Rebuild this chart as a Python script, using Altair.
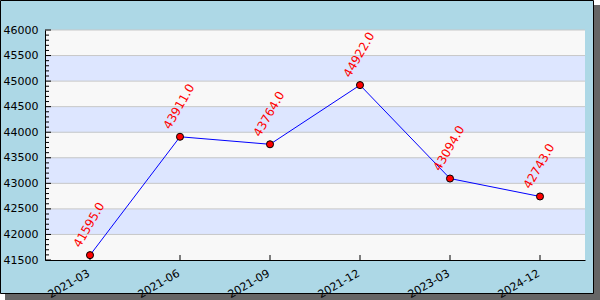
import altair as alt
import pandas as pd

categories = ["2021-03", "2021-06", "2021-09", "2021-12", "2023-03", "2024-12"]
values = [41595, 43911, 43764, 44922, 43094, 42743]

band_lows = [41500, 42000, 42500, 43000, 43500, 44000, 44500, 45000, 45500]
band_colors = ["#f8f8f8", "#dde6ff"] * 4 + ["#f8f8f8"]
grid_values = [42000, 42500, 43000, 43500, 44000, 44500, 45000, 45500, 46000]
major_ticks = [41500, 42000, 42500, 43000, 43500, 44000, 44500, 45000, 45500, 46000]
minor_ticks = [v + d for v in major_ticks[:-1] for d in (100, 200, 300, 400)]

Y0, Y1 = 41500, 46000
W, H = 540, 230
PL, PT = 45, 30

df = pd.DataFrame({"cat": categories, "val": values})
bands = pd.DataFrame({"lo": band_lows, "hi": [b + 500 for b in band_lows], "c": band_colors})
grid = pd.DataFrame({"g": grid_values})
majors = pd.DataFrame({"t": major_ticks})
minors = pd.DataFrame({"t": minor_ticks})
one = pd.DataFrame({"a": [0]})

yscale = alt.Scale(domain=[Y0, Y1], nice=False, zero=False)
xscale = alt.Scale(domain=categories, type="point", padding=0.5)

shadow = alt.Chart(one).mark_rect(fill="#666666").encode(
    x=alt.value(5 - PL), x2=alt.value(600 - PL),
    y=alt.value(5 - PT), y2=alt.value(300 - PT),
)
frame = alt.Chart(one).mark_rect(fill="#add8e6", stroke="#000000", strokeWidth=1).encode(
    x=alt.value(0.5 - PL), x2=alt.value(593.5 - PL),
    y=alt.value(0.5 - PT), y2=alt.value(293.5 - PT),
)

yaxis = alt.Axis(title=None, values=major_ticks, format="d", ticks=False, tickSize=0,
                 labelPadding=7, labelFontSize=11, labelFont="DejaVu Sans",
                 labelOverlap=False, labelBound=False, labelFlush=False, labelSeparation=0,
                 labelColor="#000000", domainColor="#000000", domainWidth=1,
                 grid=False, zindex=1)

xaxis = alt.Axis(title=None, ticks=False, tickSize=0, labelAngle=330, labelAlign="right",
                 labelBaseline="alphabetic", labelPadding=15, labelFontSize=11,
                 labelOverlap=False, labelBound=False, labelFlush=False, labelSeparation=0,
                 labelFont="DejaVu Sans", labelColor="#000000", domainColor="#000000",
                 domainWidth=1, grid=False, zindex=1)


def Y(field):
    return alt.Y(field, scale=yscale, axis=yaxis)


def X(field):
    return alt.X(field, scale=xscale, axis=xaxis, sort=categories)


band_layer = alt.Chart(bands).mark_rect().encode(
    y=Y("lo:Q"),
    y2="hi:Q",
    x=alt.value(0), x2=alt.value(W),
    fill=alt.Fill("c:N", scale=None),
)

grid_layer = alt.Chart(grid).mark_rule(color="#c8c8c8", strokeWidth=1).encode(
    y=Y("g:Q"), x=alt.value(0), x2=alt.value(W),
)

major_layer = alt.Chart(majors).mark_rule(color="#000000", strokeWidth=1).encode(
    y=Y("t:Q"), x=alt.value(0), x2=alt.value(6),
)
minor_layer = alt.Chart(minors).mark_rule(color="#000000", strokeWidth=1).encode(
    y=Y("t:Q"), x=alt.value(0), x2=alt.value(4),
)

xtick_layer = alt.Chart(df).mark_rule(color="#000000", strokeWidth=1).encode(
    x=X("cat:N"),
    y=alt.value(H - 5), y2=alt.value(H),
)

line = alt.Chart(df).mark_line(color="#0000ff", strokeWidth=1).encode(
    x=X("cat:N"),
    y=Y("val:Q"),
)
points = alt.Chart(df).mark_point(filled=True, fill="#ff0000", stroke="#000000",
                                  strokeWidth=1, size=50, opacity=1, shape="circle").encode(
    x=X("cat:N"),
    y=Y("val:Q"),
)
labels = alt.Chart(df).mark_text(angle=300, align="left", baseline="alphabetic", dx=1, dy=-12,
                                 color="#ff0000", fontSize=12, font="DejaVu Sans").encode(
    x=X("cat:N"),
    y=Y("val:Q"),
    text=alt.Text("val:Q", format=".1f"),
)

chart = alt.layer(
    shadow, frame, band_layer, grid_layer, major_layer, minor_layer, xtick_layer,
    line, points, labels,
).properties(
    width=W, height=H,
    autosize=alt.AutoSizeParams(type="none"),
    padding={"left": PL, "top": PT, "right": 600 - PL - W, "bottom": 300 - PT - H},
    background="#ffffff",
).configure_view(stroke=None)

chart.save("out.html", embed_options={"renderer": "svg", "actions": False})
